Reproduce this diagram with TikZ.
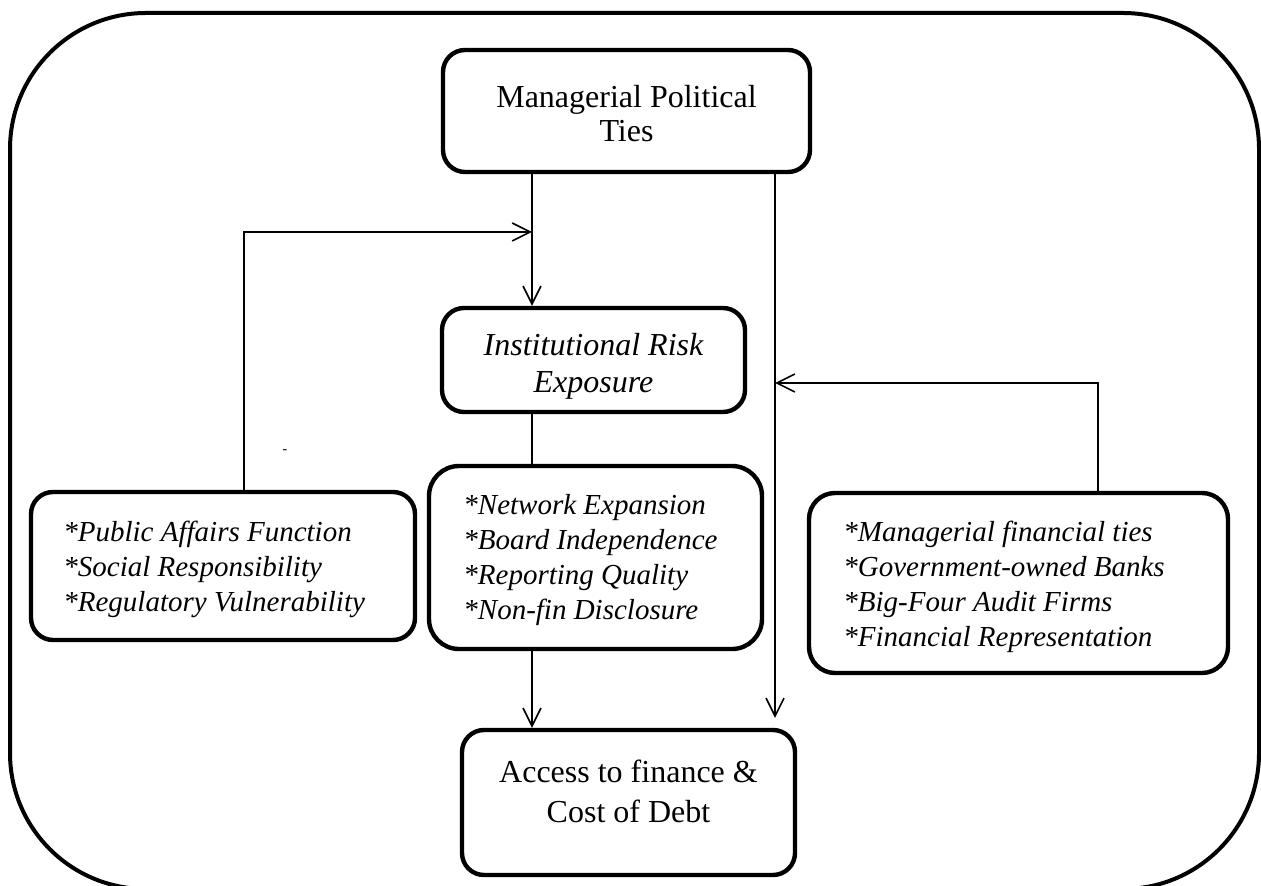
\documentclass[tikz,border=0pt]{standalone}
\usepackage{fontspec}
\setmainfont{Liberation Serif}
\usetikzlibrary{arrows.meta}

\begin{document}
\begin{tikzpicture}[x=0.5pt,y=-0.5pt,
  box/.style={draw, line width=2.2pt, rounded corners=11pt, inner sep=0pt},
  label text/.style={inner sep=0pt, align=center},
  list text/.style={inner sep=0pt, align=left, anchor=west, font=\fontsize{14.5}{17.5}\selectfont\itshape},
  link/.style={line width=0.8pt},
  arr/.style={link, -{Straight Barb[length=9pt,width=9pt,line width=0.8pt]}},
  frame/.style={line width=2pt, rounded corners=68pt}
]
\useasboundingbox (0,0) rectangle (1261,886);

% outer frame, its lower edge running just past the page
\begin{scope}
\clip (0,0) rectangle (1261,886);
\draw[frame] (10,13) rectangle (1259,889);
\end{scope}

% boxes
\node[box, minimum width=183.5pt, minimum height=61pt] (mpt) at (626.5,111) {};
\node[box, minimum width=151.5pt, minimum height=52pt] (ire) at (593.5,360) {};
\node[box, rounded corners=15pt, minimum width=166.5pt, minimum height=91.5pt] (chan) at (595.5,557.5) {};
\node[box, minimum width=192pt, minimum height=74pt] (pub) at (223,566) {};
\node[box, rounded corners=13pt, minimum width=209.5pt, minimum height=90pt] (fin) at (1018.5,583) {};
\node[box, minimum width=166.5pt, minimum height=72.5pt] (acc) at (628.5,802.5) {};

% box texts
\node[label text, font=\fontsize{16}{17}\selectfont] (mpttext) at (626.5,114)
  {Managerial Political\\Ties};
\node[label text, font=\fontsize{16}{18.5}\selectfont\itshape] (iretext) at (593.5,366)
  {Institutional Risk\\Exposure};
\node[list text] (chantext) at (463,560.5)
  {*Network Expansion\\{}*Board Independence\\{}*Reporting Quality\\{}*Non-fin Disclosure};
\node[list text] (pubtext) at (63,569)
  {*Public Affairs Function\\{}*Social Responsibility\\{}*Regulatory Vulnerability};
\node[list text] (fintext) at (843,587)
  {*Managerial financial ties\\{}*Government-owned Banks\\{}*Big-Four Audit Firms\\{}*Financial Representation};
\node[label text, font=\fontsize{16}{20}\selectfont] (acctext) at (628.5,791.5)
  {Access to finance \&\\Cost of Debt};

% stray mark
\node[font=\fontsize{7}{7}\selectfont, inner sep=0pt] (mark) at (285,452) {-};

% connector columns and corners
\coordinate (xl) at (532,0);
\coordinate (xr) at (775,0);
\coordinate (fbl) at (244,232);
\coordinate (fbr) at (1098,383);

% connectors
\draw[arr] (mpt.south -| xl) -- (ire.north -| xl);
\draw[link] (ire.south -| xl) -- (chan.north -| xl);
\draw[arr] (chan.south -| xl) -- (acc.north -| xl);
\draw[arr] (mpt.south -| xr) -- ([yshift=5pt]acc.north -| xr);
\draw[arr] (pub.north -| fbl) -- (fbl) -- (fbl -| xl);
\draw[arr] (fin.north -| fbr) -- (fbr) -- (fbr -| xr);
\end{tikzpicture}
\end{document}
